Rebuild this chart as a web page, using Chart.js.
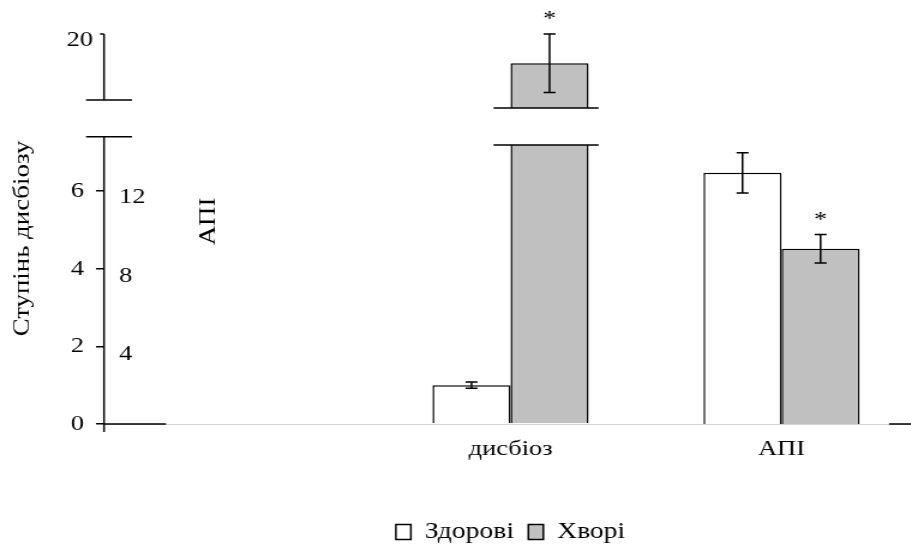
<!DOCTYPE html>
<html><head><meta charset="utf-8">
<script src="https://cdn.jsdelivr.net/npm/chart.js@4.4.1/dist/chart.umd.min.js"></script>
<style>
html,body{margin:0;padding:0;background:#fff;overflow:hidden;width:911px;height:544px}
canvas{display:block;transform:scaleX(1.2);transform-origin:0 0}
</style>
</head><body>
<canvas id="c" width="765" height="560" style="width:765px;height:560px"></canvas>
<script>
// ---- data ----
const categories = ['', 'дисбіоз', 'АПІ'];
const seriesNames = ['Здорові', 'Хворі'];
const healthyDysbiosis = [null, 1.0, null];
const healthyDysbiosisErr = [null, 0.08, null];
const sickDysbiosis = [null, 19.25, null];
const sickDysbiosisErr = [null, 0.75, null];
const healthyApi = [null, null, 12.75];
const healthyApiErr = [null, null, 1.02];
const sickApi = [null, null, 8.9];
const sickApiErr = [null, null, 0.72];
const sickSignificant = [false, true, true];
const dysbiosisTicks = [0, 2, 4, 6];
const upperTicks = [20];
const apiTicks = [4, 8, 12];
const yTitle = 'Ступінь дисбіозу';
const y2Title = 'АПІ';

// ---- scale ranges / axis break (value units) ----
const Y_MAX = 10.05, YU_MIN = 10, YU_MAX = 20, Y2_MAX = 19.8;
const BAR_BREAK_LOW = 7.19, BAR_BREAK_HIGH = 18.1;
const AXIS_BREAK_LOW = 7.4, AXIS_BREAK_HIGH = 18.31;

// text in the original is horizontally widened; the canvas is widened by S via CSS
const S = 1.2;
const h = v => v / S;           // horizontal screen px -> canvas px
const FONT = 'Liberation Serif';
const FS = 22, LEGEND_FS = 23, TITLE_STRETCH = 1.22;
const WHITE = '#ffffff', GREY = '#c0c0c0', BLACK = '#000000';

const common = {borderColor: BLACK, borderWidth: 1.5, barPercentage: 1, categoryPercentage: 0.576, borderSkipped: 'start'};

const decor = {
  id: 'decor',
  beforeDatasetDraw(chart, args) {
    const ds = chart.data.datasets[args.index];
    if (!ds.breakPart) return;
    const ctx = chart.ctx;
    ctx.save();
    ctx.beginPath();
    if (ds.breakPart === 'low') {
      const yb = chart.scales.y.getPixelForValue(BAR_BREAK_LOW);
      ctx.rect(0, yb, chart.width, chart.height - yb);
    } else {
      const yb = chart.scales.yU.getPixelForValue(BAR_BREAK_HIGH);
      ctx.rect(0, 0, chart.width, yb);
    }
    ctx.clip();
  },
  afterDatasetDraw(chart, args) {
    if (chart.data.datasets[args.index].breakPart) chart.ctx.restore();
  },
  afterDatasetsDraw(chart) {
    const ctx = chart.ctx;
    ctx.save();
    ctx.strokeStyle = BLACK;
    ctx.fillStyle = BLACK;
    ctx.lineWidth = 1.5;
    chart.data.datasets.forEach((ds, di) => {
      const meta = chart.getDatasetMeta(di);
      const sc = chart.scales[ds.yAxisID];
      ds.data.forEach((v, i) => {
        if (v == null) return;
        const el = meta.data[i];
        if (ds.breakPart) {
          const yb = ds.breakPart === 'low' ? chart.scales.y.getPixelForValue(BAR_BREAK_LOW)
                                            : chart.scales.yU.getPixelForValue(BAR_BREAK_HIGH);
          ctx.beginPath();
          ctx.moveTo(el.x - el.width / 2 - h(17), yb);
          ctx.lineTo(el.x + el.width / 2 + h(10), yb);
          ctx.stroke();
        }
        if (!ds.err) return;
        const e = ds.err[i];
        const t = sc.getPixelForValue(v + e), b = sc.getPixelForValue(v - e);
        const cap = h(6);
        ctx.beginPath();
        ctx.moveTo(el.x, t); ctx.lineTo(el.x, b);
        ctx.moveTo(el.x - cap, t); ctx.lineTo(el.x + cap, t);
        ctx.moveTo(el.x - cap, b); ctx.lineTo(el.x + cap, b);
        ctx.stroke();
        if (ds.star && ds.star[i]) {
          ctx.font = FS + 'px "' + FONT + '"';
          ctx.textAlign = 'center';
          ctx.textBaseline = 'alphabetic';
          ctx.fillText('*', el.x, t - 9);
        }
      });
    });
    ctx.restore();
  },
  afterDraw(chart) {
    const ctx = chart.ctx;
    const a = chart.chartArea;
    const y = chart.scales.y, yU = chart.scales.yU, y2 = chart.scales.y2;
    const x0 = a.left;
    ctx.save();
    ctx.strokeStyle = BLACK;
    ctx.fillStyle = BLACK;
    ctx.lineWidth = 1.5;
    ctx.beginPath();
    // broken vertical axis
    ctx.moveTo(x0, yU.getPixelForValue(YU_MAX)); ctx.lineTo(x0, yU.getPixelForValue(AXIS_BREAK_HIGH));
    ctx.moveTo(x0, y.getPixelForValue(AXIS_BREAK_LOW)); ctx.lineTo(x0, y.getPixelForValue(0) + 8);
    // break marks
    [yU.getPixelForValue(AXIS_BREAK_HIGH), y.getPixelForValue(AXIS_BREAK_LOW)].forEach(p => {
      ctx.moveTo(x0 - h(18), p); ctx.lineTo(x0 + h(28), p);
    });
    // upper tick
    upperTicks.forEach(v => {
      const p = yU.getPixelForValue(v);
      ctx.moveTo(x0 - h(4), p); ctx.lineTo(x0, p);
    });
    // black x-axis pieces
    const yb = y.getPixelForValue(0);
    ctx.moveTo(x0, yb); ctx.lineTo(x0 + h(62), yb);
    ctx.moveTo(a.right - h(28), yb); ctx.lineTo(a.right, yb);
    ctx.stroke();

    ctx.font = FS + 'px "' + FONT + '"';
    ctx.textBaseline = 'middle';
    ctx.textAlign = 'right';
    upperTicks.forEach(v => ctx.fillText(String(v), x0 - h(11), yU.getPixelForValue(v) + 6.5));
    ctx.textAlign = 'left';
    apiTicks.forEach(v => ctx.fillText(String(v), x0 + h(15), y2.getPixelForValue(v) + 9.5));

    // rotated titles (widened along their baseline, like the original)
    ctx.textAlign = 'center';
    const rot = (txt, cx, cy) => {
      ctx.save();
      ctx.translate(cx, cy);
      ctx.rotate(-Math.PI / 2);
      ctx.scale(TITLE_STRETCH, 1 / S);
      ctx.fillText(txt, 0, 0);
      ctx.restore();
    };
    const midY = (a.top + a.bottom) / 2;
    rot(yTitle, h(23), midY + 9.5);
    rot(y2Title, h(209), midY - 7.5);
    ctx.restore();
  }
};

new Chart(document.getElementById('c'), {
  type: 'bar',
  data: {
    labels: categories,
    datasets: [
      {label: seriesNames[0], data: healthyDysbiosis, err: healthyDysbiosisErr, yAxisID: 'y', backgroundColor: WHITE, stack: 'a', ...common},
      {label: seriesNames[1], data: sickDysbiosis, yAxisID: 'y', backgroundColor: GREY, stack: 'b', breakPart: 'low', ...common},
      {label: seriesNames[1], data: sickDysbiosis, err: sickDysbiosisErr, star: sickSignificant, yAxisID: 'yU', backgroundColor: GREY, stack: 'b', breakPart: 'high', ...common},
      {label: seriesNames[0], data: healthyApi, err: healthyApiErr, yAxisID: 'y2', backgroundColor: WHITE, stack: 'a', ...common},
      {label: seriesNames[1], data: sickApi, err: sickApiErr, star: sickSignificant, yAxisID: 'y2', backgroundColor: GREY, stack: 'b', ...common}
    ]
  },
  plugins: [decor],
  options: {
    responsive: false,
    animation: false,
    layout: {padding: {left: 0, top: 34, right: 0.8, bottom: 6.5}},
    plugins: {
      legend: {
        position: 'bottom',
        fullSize: false,
        labels: {
          color: BLACK,
          boxWidth: h(15),
          boxHeight: 15,
          padding: 12,
          font: {family: FONT, size: LEGEND_FS},
          filter: (item) => item.datasetIndex < 2
        }
      },
      tooltip: {enabled: false}
    },
    scales: {
      x: {
        type: 'category',
        offset: true,
        grid: {display: false},
        border: {display: true, color: '#d4d4d4', width: 1},
        ticks: {color: BLACK, font: {family: FONT, size: FS}, padding: 4},
        afterFit: (s) => { s.height = 84.5; }
      },
      y: {
        position: 'left',
        min: 0, max: Y_MAX,
        afterBuildTicks: (s) => { s.ticks = dysbiosisTicks.map(v => ({value: v})); },
        grid: {drawOnChartArea: false, drawTicks: true, tickLength: h(8), color: BLACK, lineWidth: 1.5},
        border: {display: false},
        ticks: {color: BLACK, font: {family: FONT, size: FS}, padding: 10},
        afterFit: (s) => { s.width = h(104); }
      },
      yU: {
        display: false, position: 'left',
        min: YU_MIN, max: YU_MAX
      },
      y2: {
        display: false, position: 'left',
        min: 0, max: Y2_MAX
      }
    }
  }
});
</script>
</body></html>
